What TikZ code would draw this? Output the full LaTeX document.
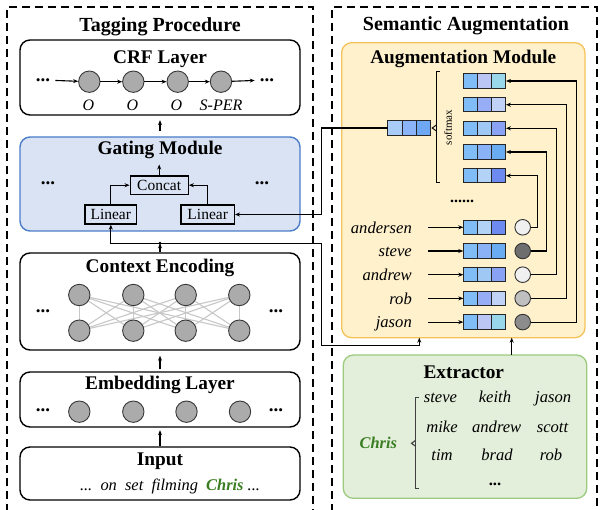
\documentclass[tikz,border=0pt]{standalone}
\usepackage{fontspec}
\setmainfont{Liberation Serif}
\usetikzlibrary{arrows.meta}
\definecolor{gatefill}{HTML}{DAE3F3}
\definecolor{gateborder}{HTML}{4A7CC8}
\definecolor{augfill}{HTML}{FEF1CC}
\definecolor{augborder}{HTML}{F5C25A}
\definecolor{extfill}{HTML}{E3EFDA}
\definecolor{extborder}{HTML}{9CCB7E}
\definecolor{chrisgreen}{HTML}{3A7D22}
\definecolor{cA}{HTML}{80BDF7}
\definecolor{vAb}{HTML}{BCC6F5}\definecolor{vAc}{HTML}{98D8EA}
\definecolor{vBb}{HTML}{97AEF7}\definecolor{vBc}{HTML}{C0D2F6}
\definecolor{vCb}{HTML}{A0C8F5}\definecolor{vCc}{HTML}{8AA2F3}
\definecolor{vDb}{HTML}{8AB2F6}\definecolor{vDc}{HTML}{6AACF2}
\definecolor{vEb}{HTML}{B2D3F6}\definecolor{vEc}{HTML}{6C8AF0}
\definecolor{sA}{HTML}{A8CBF8}\definecolor{sB}{HTML}{8AB4F7}\definecolor{sC}{HTML}{6EA8F3}
\newcommand\vecthree[6]{%
  \node[cell, fill=#4] (#1a) at (#2,#3) {};
  \node[cell, fill=#5] (#1b) at ({#2+14.2},#3) {};
  \node[cell, fill=#6] (#1c) at ({#2+28.4},#3) {};}
\begin{document}
\begin{tikzpicture}[x=1pt,y=-1pt,
  panel/.style={draw=black, line width=1.4pt, rounded corners=10pt, inner sep=0pt},
  outtitle/.style={font=\fontsize{20}{22}\selectfont\bfseries, inner sep=0pt},
  intitle/.style={font=\fontsize{19.3}{21}\selectfont\bfseries, inner sep=0pt},
  neuron/.style={circle, draw=black!78, fill=black!33, minimum size=21.4pt, inner sep=0pt, line width=0.9pt},
  tok/.style={circle, draw=black!80, minimum size=15.6pt, inner sep=0pt, line width=0.9pt},
  arr/.style={-{Stealth[length=5pt,width=4pt]}, line width=1.1pt},
  sbox/.style={draw, line width=1.3pt, font=\fontsize{15.5}{17}\selectfont, inner sep=0pt},
  lab/.style={font=\fontsize{16}{18}\selectfont\itshape, inner sep=0pt},
  word/.style={font=\fontsize{16.6}{18}\selectfont\itshape, inner sep=0pt},
  dots/.style={font=\fontsize{19}{20}\selectfont\bfseries, inner sep=0pt},
  cell/.style={draw=black!85, line width=1pt, minimum width=14.2pt, minimum height=14.5pt, inner sep=0pt, outer sep=0pt},
  dashline/.style={line width=1.6pt, dash pattern=on 8pt off 5pt}]
\useasboundingbox (0,0) rectangle (603,510);
% dashed panels
\draw[dashline] (7,512) -- (7,7) -- (313,7) -- (313,512);
\draw[dashline] (332,512) -- (332,7) -- (597,7) -- (597,512);
\node[outtitle, anchor=base] (tagt) at (160,31.5) {Tagging Procedure};
\node[outtitle, anchor=base] (semt) at (466,30.7) {Semantic Augmentation};

% ---------- CRF layer
\node[panel, minimum width=280pt, minimum height=75pt] (crf) at (160,77.5) {};
\node[intitle, anchor=base] (crft) at (160,64) {CRF Layer};
\node[dots] (crfdl) at (43,80) {...};
\node[dots] (crfdr) at (267,80) {...};
\foreach \i/\x in {1/89.3,2/133.3,3/177.7,4/221}
  \node[neuron] (c\i) at (\x,81.7) {};
\draw[arr, shorten <=5pt] (crfdl) -- (c1);
\draw[arr] (c1) -- (c2);
\draw[arr] (c2) -- (c3);
\draw[arr] (c3) -- (c4);
\draw[arr, shorten >=5pt] (c4) -- (crfdr);
\node[lab, anchor=base] (o1) at (88.5,111) {O};
\node[lab, anchor=base] (o2) at (132.5,111) {O};
\node[lab, anchor=base] (o3) at (176.5,111) {O};
\node[lab, anchor=base] (o4) at (221,111) {S-PER};

% ---------- Gating module
\node[panel, draw=gateborder, fill=gatefill, minimum width=280pt, minimum height=94pt] (gate) at (160,184) {};
\node[intitle, anchor=base] (gatet) at (160,154.7) {Gating Module};
\node[dots] (gdl) at (48,183) {...};
\node[dots] (gdr) at (262,183) {...};
\node[sbox, minimum width=58pt, minimum height=18.3pt] (concat) at (159.2,185.2) {Concat};
\node[sbox, minimum width=51.7pt, minimum height=19pt] (linl) at (110.8,214.5) {Linear};
\node[sbox, minimum width=53.3pt, minimum height=19pt] (linr) at (207.7,214.5) {Linear};
\draw[arr] (linl.north) |- (concat.west);
\draw[arr] (linr.north) |- (concat.east);
\coordinate (gtip) at (159.2,164.5);
\draw[arr] (concat.north) -- (gtip);
\draw[arr, shorten <=5pt, shorten >=4.5pt] (gate.north) -- (crf.south);

% ---------- Context encoding
\node[panel, minimum width=280pt, minimum height=97pt] (ctx) at (160,301.5) {};
\node[intitle, anchor=base] (ctxt) at (160,273) {Context Encoding};
\node[dots] (xdl) at (43,311) {...};
\node[dots] (xdr) at (276,311) {...};
\foreach \i/\x in {1/79.3,2/133.3,3/185.7,4/239.3}{
  \coordinate (pt\i) at (\x,295);
  \coordinate (pb\i) at (\x,330.7);}
\foreach \i in {1,...,4}
  \foreach \j in {1,...,4}
    \draw[black!22, line width=1.1pt] (pt\i) -- (pb\j);
\foreach \i in {1,...,4}{
  \node[neuron] (t\i) at (pt\i) {};
  \node[neuron] (b\i) at (pb\i) {};}

% ---------- Embedding layer
\node[panel, minimum width=280pt, minimum height=55pt] (emb) at (160,399.5) {};
\node[intitle, anchor=base] (embt) at (160,390) {Embedding Layer};
\node[dots] (edl) at (43,410) {...};
\node[dots] (edr) at (276,410) {...};
\foreach \i/\x in {1/79.3,2/133.3,3/186.5,4/240}
  \node[neuron] (e\i) at (\x,411.7) {};
\draw[arr, shorten <=2pt, shorten >=5pt] (emb.north) -- (ctx.south);

% ---------- Input
\node[panel, minimum width=280pt, minimum height=53pt] (inp) at (160,473.5) {};
\node[intitle, anchor=base] (inpt) at (160,465.7) {Input};
\node[font=\fontsize{16.4}{18}\selectfont\itshape, anchor=base, inner sep=0pt] (sent) at (170,490.7)
  {...\ \ on\ \ set\ \ filming\ \ \textcolor{chrisgreen}{\textbf{Chris}}\ ...};
\draw[arr, shorten <=0.5pt, shorten >=2.5pt] (inp.north) -- (emb.south);

% ---------- Augmentation module
\node[panel, draw=augborder, fill=augfill, minimum width=243.3pt, minimum height=295pt, line width=1.3pt] (aug) at (463.3,190.2) {};
\node[intitle, anchor=base] (augt) at (463.3,63.3) {Augmentation Module};
\vecthree{sv}{395}{128}{sA}{sB}{sC}
\vecthree{va}{470.4}{81}{cA}{vAb}{vAc}
\vecthree{vb}{470.4}{104.7}{cA}{vBb}{vBc}
\vecthree{vc}{470.4}{128.3}{cA}{vCb}{vCc}
\vecthree{vd}{470.4}{152}{cA}{vDb}{vDc}
\vecthree{ve}{470.4}{175.7}{cA}{vEb}{vEc}
\draw[line width=1pt] (440,72) -- (436.7,72) -- (436.7,183) -- (440,183);
\draw[line width=0.9pt] (436.7,124.8) -- (432.2,128) -- (436.7,131.2);
\node[rotate=90, font=\fontsize{11}{12}\selectfont, inner sep=0pt] (smax) at (448,127.5) {softmax};
\node[dots, font=\fontsize{16}{18}\selectfont\bfseries] (augdots) at (462,201) {......};
% token rows
\foreach \n/\w/\y/\ca/\cb/\cc/\g/\xl/\tv in {
   1/andersen/227.3/cA/vEb/vEc/black!6/537.7/ve,
   2/steve/251/cA/vDb/vDc/black!57/546.7/vd,
   3/andrew/274.7/cA/vCb/vCc/black!6/556.7/vc,
   4/rob/298.4/cA/vBb/vBc/black!25/566.7/vb,
   5/jason/322.1/cA/vAb/vAc/black!45/576.7/va}{
  \node[word, anchor=base east] (w\n) at (412,{\y+5.8}) {\w};
  \vecthree{r\n}{470.4}{\y}{\ca}{\cb}{\cc}
  \draw[arr] (428.3,\y) -- (r\n a.west);
  \node[tok, fill=\g] (k\n) at (522.7,\y) {};
  \coordinate (q\n) at (\xl,\y);
  \draw[arr] (k\n) -- (q\n) |- (\tv c.east);
}

% ---------- Extractor
\node[panel, draw=extborder, fill=extfill, minimum width=243.4pt, minimum height=143.3pt, line width=1.3pt] (ext) at (465,426.7) {};
\node[intitle, anchor=base] (extt) at (463.8,378.3) {Extractor};
\node[word, font=\fontsize{16.4}{18}\selectfont\itshape\bfseries, text=chrisgreen, anchor=base] (chris) at (378.3,448.3) {Chris};
\draw[line width=1.1pt, black!75] (418.7,397.3) -- (415.7,397.3) -- (415.7,488.3) -- (418.7,488.3);
\draw[line width=1.1pt, black!75] (415.7,440.3) -- (411.5,443.3) -- (415.7,446.3);
\node[word, anchor=base] (x11) at (440.5,402.5) {steve};
\node[word, anchor=base] (x12) at (495,402.5) {keith};
\node[word, anchor=base] (x13) at (553.2,402.5) {jason};
\node[word, anchor=base] (x21) at (442,432.3) {mike};
\node[word, anchor=base] (x22) at (496.7,432.3) {andrew};
\node[word, anchor=base] (x23) at (552.5,432.3) {scott};
\node[word, anchor=base] (x31) at (442,460.7) {tim};
\node[word, anchor=base] (x32) at (497,460.7) {brad};
\node[word, anchor=base] (x33) at (551,460.7) {rob};
\node[word, font=\fontsize{16.6}{18}\selectfont\bfseries, anchor=base] (x42) at (495,485.7) {...};
\coordinate (extout) at (511.7,355);
\coordinate (augin1) at (511.7,337.7);
\draw[arr] (extout) -- (augin1);

% ---------- cross connections
\coordinate (junc) at (160,243.3);
\coordinate (jrd) at (321.7,345.7);
\coordinate (augin2) at (419.3,337.7);
\coordinate (svl) at (321.7,128);
\draw[arr] (ctx.north) -- (junc);
\draw[arr] (junc) -| (linl.south);
\draw[arr] (junc) -| (jrd) -| (augin2);
\fill (junc) circle (1.7pt);
\draw[arr] (sva.west) -- (svl) |- (linr.east);
\end{tikzpicture}
\end{document}
